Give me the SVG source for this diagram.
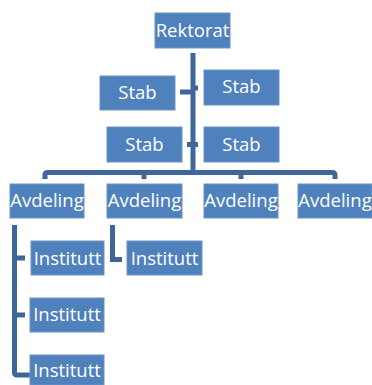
<svg xmlns="http://www.w3.org/2000/svg" width="372" height="385" viewBox="0 0 372 385">
<style>
.box{fill:#4F81BD;stroke:#6a95c8;stroke-width:1}
.t{fill:#fff;font-family:"Open Sans","Liberation Sans",sans-serif;font-size:18.5px;text-anchor:middle}
.c{fill:none;stroke:#3E6699;stroke-width:5}
</style>
<rect width="372" height="385" fill="#fff"/>
<g id="connectors">
<path class="c" d="M193 53V172.5"/>
<path class="c" d="M180 92H193M193 88H198M187 144.5H193M193 144.5H198"/>
<path class="c" d="M45 179V175Q45 172.5 48 172.5H332Q335 172.5 335 175V179"/>
<path class="c" d="M144 179V172.5M241 179V172.5"/>
<path class="c" d="M14.5 225V372.5Q14.5 375 17 375H30M14.5 258H25M14.5 315H25"/>
<path class="c" d="M112.5 225V259.5H122"/>
</g>
<g id="rektorat"><rect class="box" x="155" y="13" width="75" height="35"/><text class="t" x="192.5" y="37">Rektorat</text></g>
<g id="stab1"><rect class="box" x="100" y="76" width="75" height="34"/><text class="t" x="137.5" y="99">Stab</text></g>
<g id="stab2"><rect class="box" x="204" y="70" width="75" height="35"/><text class="t" x="241.5" y="93">Stab</text></g>
<g id="stab3"><rect class="box" x="107" y="127" width="75" height="35"/><text class="t" x="144.5" y="151">Stab</text></g>
<g id="stab4"><rect class="box" x="204" y="127" width="75" height="35"/><text class="t" x="241.5" y="151">Stab</text></g>
<g id="avd1"><rect class="box" x="10" y="184" width="74" height="34"/><text class="t" x="47" y="207">Avdeling</text></g>
<g id="avd2"><rect class="box" x="107" y="184" width="75" height="34"/><text class="t" x="144.5" y="207">Avdeling</text></g>
<g id="avd3"><rect class="box" x="204" y="184" width="74" height="34"/><text class="t" x="241" y="207">Avdeling</text></g>
<g id="avd4"><rect class="box" x="298" y="184" width="74" height="34"/><text class="t" x="335" y="207">Avdeling</text></g>
<g id="inst1"><rect class="box" x="31" y="241" width="73" height="34"/><text class="t" x="67.5" y="265">Institutt</text></g>
<g id="inst2"><rect class="box" x="127" y="241" width="75" height="34"/><text class="t" x="164.5" y="265">Institutt</text></g>
<g id="inst3"><rect class="box" x="30" y="298" width="74" height="34"/><text class="t" x="67" y="321">Institutt</text></g>
<g id="inst4"><rect class="box" x="30" y="355" width="74" height="30"/><text class="t" x="67" y="377">Institutt</text></g>
</svg>
